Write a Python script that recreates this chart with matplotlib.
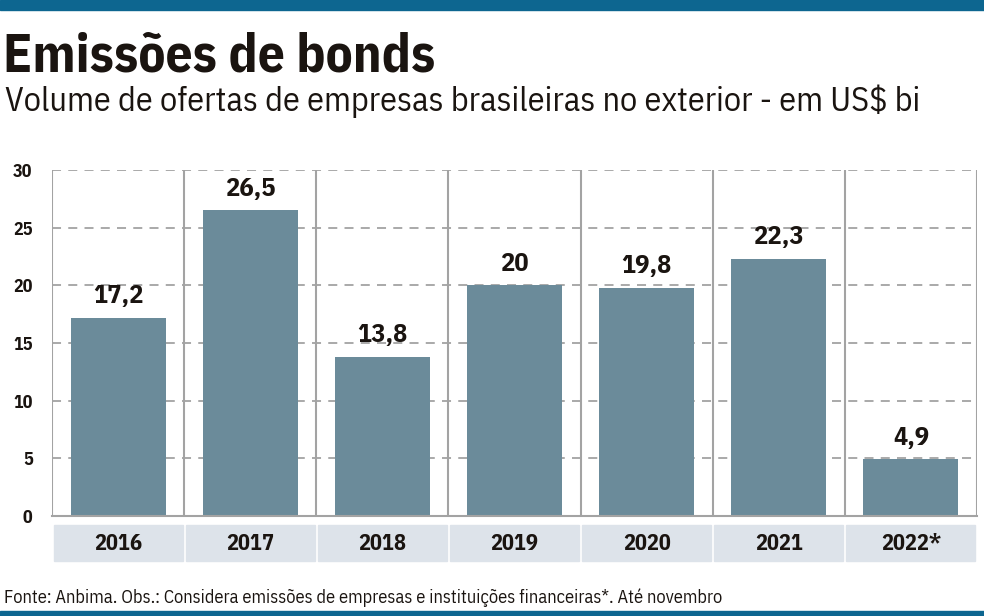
import matplotlib.pyplot as plt
from matplotlib.patches import Rectangle

years = ["2016", "2017", "2018", "2019", "2020", "2021", "2022*"]
volumes = [17.2, 26.5, 13.8, 20, 19.8, 22.3, 4.9]
value_labels = ["17,2", "26,5", "13,8", "20", "19,8", "22,3", "4,9"]
yticks = [0, 5, 10, 15, 20, 25, 30]

NARROW = ["IBM Plex Sans Condensed", "Open Sans", "DejaVu Sans"]
BAR = "#6b8b9a"
BLUE = "#0d6690"
GRID = "#a3a3a3"
BAND = "#dde3ea"
INK = "#1a1410"

fig = plt.figure(figsize=(9.84, 6.16), dpi=100)

# faixas azuis de cima e de baixo
fig.patches.append(Rectangle((0, 1 - 10 / 616), 1, 10 / 616, transform=fig.transFigure,
                             color=BLUE, zorder=0))
fig.patches.append(Rectangle((0, 0), 1, 5 / 616, transform=fig.transFigure,
                             color=BLUE, zorder=0))

fig.text(0.003, 1 - 72 / 616, "Emissões de bonds", family=NARROW, fontweight="bold",
         fontsize=38.5, color=INK, va="baseline")
fig.text(0.005, 1 - 111 / 616, "Volume de ofertas de empresas brasileiras no exterior - em US$ bi",
         family=NARROW, fontsize=24.6, color=INK, va="baseline")
fig.text(0.004, 1 - 603 / 616,
         "Fonte: Anbima. Obs.: Considera emissões de empresas e instituições financeiras*. Até novembro",
         family=NARROW, fontsize=13.2, color=INK, va="baseline")

ax = fig.add_axes([52 / 984, 1 - 516 / 616, (977 - 52) / 984, (516 - 170) / 616])
x = list(range(len(years)))
ax.bar(x, volumes, width=0.72, color=BAR, zorder=2)
ax.set_xlim(-0.5, len(years) - 0.5)
ax.set_ylim(0, 30)

for s in ["top", "right", "left"]:
    ax.spines[s].set_visible(False)
ax.spines["bottom"].set_color(GRID)
ax.spines["bottom"].set_linewidth(1.5)

ax.set_yticks(yticks)
ax.set_yticklabels([str(t) for t in yticks], family=NARROW, fontweight="bold", fontsize=13,
                   color=INK)
ax.tick_params(axis="y", length=0, pad=14)
ax.set_xticks([])
for t in yticks[1:]:
    ax.axhline(t, color=GRID, lw=1.3, ls=(0, (5, 4)), zorder=1)
for b in range(len(years) + 1):
    ax.axvline(b - 0.5, color=GRID, lw=1.5, zorder=1)

for xi, v, lab in zip(x, volumes, value_labels):
    ax.annotate(lab, (xi, v), xytext=(0, 7), textcoords="offset points", ha="center",
                va="bottom", family=NARROW, fontweight="bold", fontsize=19, color=INK)

# faixa das categorias
trans = ax.get_xaxis_transform()
band_y0 = -(561 - 516) / (516 - 170)
band_h = (561 - 525) / (516 - 170)
for xi, yr in zip(x, years):
    ax.add_patch(Rectangle((xi - 0.5 + 0.012, band_y0), 0.976, band_h, transform=trans,
                           color=BAND, clip_on=False, zorder=0))
    ax.text(xi, band_y0 + band_h / 2, yr, transform=trans, ha="center", va="center",
            family=NARROW, fontweight="bold", fontsize=16, color=INK)

fig.savefig("out.png", dpi=100)
